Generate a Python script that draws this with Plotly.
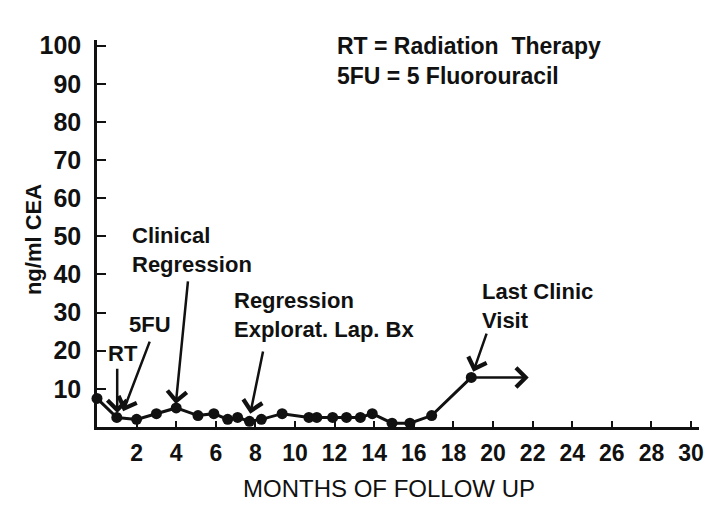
import plotly.graph_objects as go

# ---- data ----
months = [0, 1, 2, 3, 4, 5.1, 5.9, 6.6, 7.1, 7.7, 8.3, 9.35, 10.7, 11.1, 11.9, 12.6, 13.3, 13.9, 14.9, 15.8, 16.9, 18.9]
cea = [7.5, 2.5, 2, 3.5, 5, 3, 3.5, 2, 2.5, 1.5, 2, 3.5, 2.5, 2.5, 2.5, 2.5, 2.5, 3.5, 1, 1, 3, 13]
x_ticks = list(range(2, 31, 2))
y_ticks = list(range(10, 101, 10))
followup_end = 21.8  # arrow continuing after last clinic visit

FONT = "Liberation Sans"
BLACK = "#111111"

fig = go.Figure()
fig.add_trace(go.Scatter(
    x=months, y=cea, mode="lines+markers",
    line=dict(color=BLACK, width=3),
    marker=dict(color=BLACK, size=11),
    cliponaxis=False, showlegend=False, hoverinfo="skip",
))

annotations = []

def text_ann(x, y, text, xanchor="left", align="left", size=22):
    annotations.append(dict(
        x=x, y=y, xref="x", yref="y", text=text, showarrow=False,
        xanchor=xanchor, yanchor="middle", align=align,
        font=dict(family=FONT, size=size, color=BLACK, weight="bold"),
    ))

def arrow_ann(x_tail, y_tail, x_tip, y_tip):
    annotations.append(dict(
        x=x_tip, y=y_tip, ax=x_tail, ay=y_tail,
        xref="x", yref="y", axref="x", ayref="y",
        text="", showarrow=True, arrowhead=4, arrowsize=1.5,
        arrowwidth=2.5, arrowcolor=BLACK, standoff=0, startstandoff=0,
    ))

# Legend-like key
text_ann(12.0, 96.0, "RT = Radiation  Therapy<br>5FU = 5 Fluorouracil", size=23)

# RT
text_ann(1.3, 19.4, "RT", xanchor="center", align="center")
arrow_ann(1.02, 15.7, 1.02, cea[1] + 1.2)
# 5FU
text_ann(2.69, 27.0, "5FU", xanchor="center", align="center")
arrow_ann(2.69, 22.8, 1.32, cea[1] + 1.6)
# Clinical Regression
text_ann(1.68, 46.3, "Clinical<br>Regression")
arrow_ann(4.6, 38.6, months[4] - 0.02, cea[4] + 1.0)
# Regression Explorat. Lap. Bx
text_ann(6.83, 29.4, "Regression<br>Explorat. Lap. Bx")
arrow_ann(8.4, 20.2, 7.74, cea[9] + 2.0)
# Last Clinic Visit
text_ann(19.35, 31.8, "Last Clinic<br>Visit")
arrow_ann(19.7, 24.9, months[-1] + 0.1, cea[-1] + 1.5)
# Horizontal continuation arrow
arrow_ann(months[-1], cea[-1], followup_end, cea[-1])

# Axis titles
annotations.append(dict(
    xref="paper", yref="paper", x=0.4854, y=0, yshift=-61,
    text="MONTHS OF FOLLOW UP", showarrow=False,
    xanchor="center", yanchor="middle",
    font=dict(family=FONT, size=24, color=BLACK),
))
annotations.append(dict(
    xref="paper", yref="paper", x=0, y=0.483, xshift=-64,
    text="ng/ml CEA", showarrow=False, textangle=-90,
    xanchor="center", yanchor="middle",
    font=dict(family=FONT, size=22, color=BLACK, weight="bold"),
))

# page body adds an 8px margin; size the figure to fit inside the 722x510 window
fig.update_layout(
    width=706, height=494,
    margin=dict(l=89, r=15, t=32, b=75, autoexpand=False),
    paper_bgcolor="white", plot_bgcolor="white",
    annotations=annotations,
    xaxis=dict(
        range=[0, 30.4], tickvals=x_ticks, ticktext=[str(v) for v in x_ticks],
        showgrid=False, zeroline=False, showline=True, linecolor=BLACK, linewidth=2.5,
        ticks="inside", ticklen=6, tickwidth=2, tickcolor=BLACK,
        ticklabelstandoff=4,
        tickfont=dict(family=FONT, size=23, color=BLACK, weight="bold"),
    ),
    yaxis=dict(
        range=[0, 101.5], tickvals=y_ticks, ticktext=[str(v) for v in y_ticks],
        showgrid=False, zeroline=False, showline=True, linecolor=BLACK, linewidth=2.5,
        ticks="inside", ticklen=9, tickwidth=2, tickcolor=BLACK,
        ticklabelstandoff=8,
        tickfont=dict(family=FONT, size=25, color=BLACK, weight="bold"),
    ),
)

fig.write_html("out.html")
